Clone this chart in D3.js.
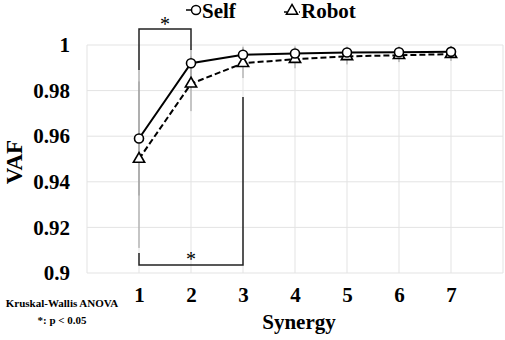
<!DOCTYPE html>
<html>
<head>
<meta charset="utf-8">
<script src="https://cdn.jsdelivr.net/npm/d3@7"></script>
<style>
  body { margin: 0; background: #fff; }
  text { font-family: "Liberation Serif", "Times New Roman", serif; font-weight: bold; fill: #000; }
</style>
</head>
<body>
<svg id="chart" width="505" height="340"></svg>
<script>
// synergy counts and mean VAF with spread for each condition
var synergies = [1, 2, 3, 4, 5, 6, 7];
var selfVaf = [0.959, 0.992, 0.9957, 0.9963, 0.9967, 0.9968, 0.997];
var selfErr = [0.025, 0.006, 0.0035, 0.003, 0.0025, 0.0025, 0.002];
var robotVaf = [0.950, 0.983, 0.992, 0.9938, 0.995, 0.9955, 0.996];
var robotErr = [0.039, 0.012, 0.0065, 0.004, 0.0035, 0.003, 0.003];
var yTicks = [0.9, 0.92, 0.94, 0.96, 0.98, 1];

var svg = d3.select('#chart');

var plotLeft = 87, plotRight = 503, plotTop = 45, plotBottom = 273;

var x = d3.scaleLinear().domain([0, 8]).range([plotLeft, plotRight]);
var y = d3.scaleLinear().domain([0.9, 1]).range([plotBottom, plotTop]);

// grid
var grid = svg.append('g').attr('class', 'grid');
grid.selectAll('line.h').data(yTicks).enter().append('line')
  .attr('x1', plotLeft).attr('x2', plotRight)
  .attr('y1', d => y(d)).attr('y2', d => y(d))
  .attr('stroke', '#e3e3e3').attr('stroke-width', 1);
grid.selectAll('line.v').data(d3.range(0, 9)).enter().append('line')
  .attr('x1', d => x(d)).attr('x2', d => x(d))
  .attr('y1', plotTop).attr('y2', plotBottom)
  .attr('stroke', '#e3e3e3').attr('stroke-width', 1);

// axes (labels only, no domain)
var yAxis = svg.append('g')
  .attr('transform', `translate(${plotLeft},0)`)
  .call(d3.axisLeft(y).tickValues(yTicks).tickSize(0).tickPadding(17).tickFormat(d => String(+d.toFixed(2))));
yAxis.select('.domain').remove();
yAxis.selectAll('text').style('font-size', '21px').style('font-family', '"Liberation Serif", serif').style('font-weight', 'bold');

var xAxis = svg.append('g')
  .attr('transform', `translate(0,${plotBottom})`)
  .call(d3.axisBottom(x).tickValues(synergies).tickSize(0).tickPadding(14).tickFormat(d3.format('d')));
xAxis.select('.domain').remove();
xAxis.selectAll('text').style('font-size', '21px').style('font-family', '"Liberation Serif", serif').style('font-weight', 'bold');

svg.append('text').attr('transform', 'translate(22,162) rotate(-90)')
  .attr('text-anchor', 'middle').style('font-size', '23px').text('VAF');
svg.append('text').attr('x', 299).attr('y', 329)
  .attr('text-anchor', 'middle').style('font-size', '21px').text('Synergy');

svg.append('text').attr('x', 62).attr('y', 307)
  .attr('text-anchor', 'middle').style('font-size', '11px').text('Kruskal-Wallis ANOVA');
svg.append('text').attr('x', 62).attr('y', 324)
  .attr('text-anchor', 'middle').style('font-size', '11px').text('*: p < 0.05');

// error bars
function errorBars(vals, errs, cls) {
  svg.append('g').attr('class', cls).selectAll('line').data(synergies).enter().append('line')
    .attr('x1', d => x(d)).attr('x2', d => x(d))
    .attr('y1', (d, i) => y(Math.min(1, vals[i] + errs[i])))
    .attr('y2', (d, i) => y(vals[i] - errs[i]))
    .attr('stroke', '#999').attr('stroke-width', 1);
}
errorBars(robotVaf, robotErr, 'err-robot');
errorBars(selfVaf, selfErr, 'err-self');

// significance brackets
var brk = svg.append('g').attr('fill', 'none').attr('stroke', '#222').attr('stroke-width', 1.5);
brk.append('path').attr('d', `M${x(1)},70 V29 H${x(2)} V50`);
brk.append('path').attr('d', `M${x(1)},253 V265 H${x(3)} V97`);
svg.append('text').attr('x', (x(1) + x(2)) / 2).attr('y', 31).attr('text-anchor', 'middle')
  .style('font-size', '20px').style('font-weight', 'normal').text('*');
svg.append('text').attr('x', x(2)).attr('y', 266).attr('text-anchor', 'middle')
  .style('font-size', '20px').style('font-weight', 'normal').text('*');

// lines
var line = d3.line().x((d, i) => x(synergies[i])).y(d => y(d));
svg.append('path').datum(robotVaf).attr('d', line)
  .attr('fill', 'none').attr('stroke', '#000').attr('stroke-width', 2).attr('stroke-dasharray', '6,3');
svg.append('path').datum(selfVaf).attr('d', line)
  .attr('fill', 'none').attr('stroke', '#000').attr('stroke-width', 2);

// markers
var tri = d3.symbol().type(d3.symbolTriangle).size(55);
svg.append('g').selectAll('path').data(robotVaf).enter().append('path')
  .attr('d', tri)
  .attr('transform', (d, i) => `translate(${x(synergies[i])},${y(d)})`)
  .attr('fill', '#fff').attr('stroke', '#000').attr('stroke-width', 1.6);
svg.append('g').selectAll('circle').data(selfVaf).enter().append('circle')
  .attr('cx', (d, i) => x(synergies[i])).attr('cy', d => y(d)).attr('r', 4.5)
  .attr('fill', '#fff').attr('stroke', '#000').attr('stroke-width', 1.6);

// legend
var lg = svg.append('g');
lg.append('line').attr('x1', 186).attr('x2', 191).attr('y1', 10).attr('y2', 10).attr('stroke', '#000').attr('stroke-width', 1.5);
lg.append('circle').attr('cx', 196).attr('cy', 10).attr('r', 4.5).attr('fill', '#fff').attr('stroke', '#000').attr('stroke-width', 1.5);
lg.append('text').attr('x', 202).attr('y', 18).style('font-size', '21px').text('Self');
lg.append('line').attr('x1', 284).attr('x2', 300).attr('y1', 12).attr('y2', 12).attr('stroke', '#000').attr('stroke-width', 1.5).attr('stroke-dasharray', '3,2');
lg.append('path').attr('d', tri).attr('transform', 'translate(292,11)')
  .attr('fill', '#fff').attr('stroke', '#000').attr('stroke-width', 1.5);
lg.append('text').attr('x', 301).attr('y', 18).style('font-size', '21px').text('Robot');
</script>
</body>
</html>
